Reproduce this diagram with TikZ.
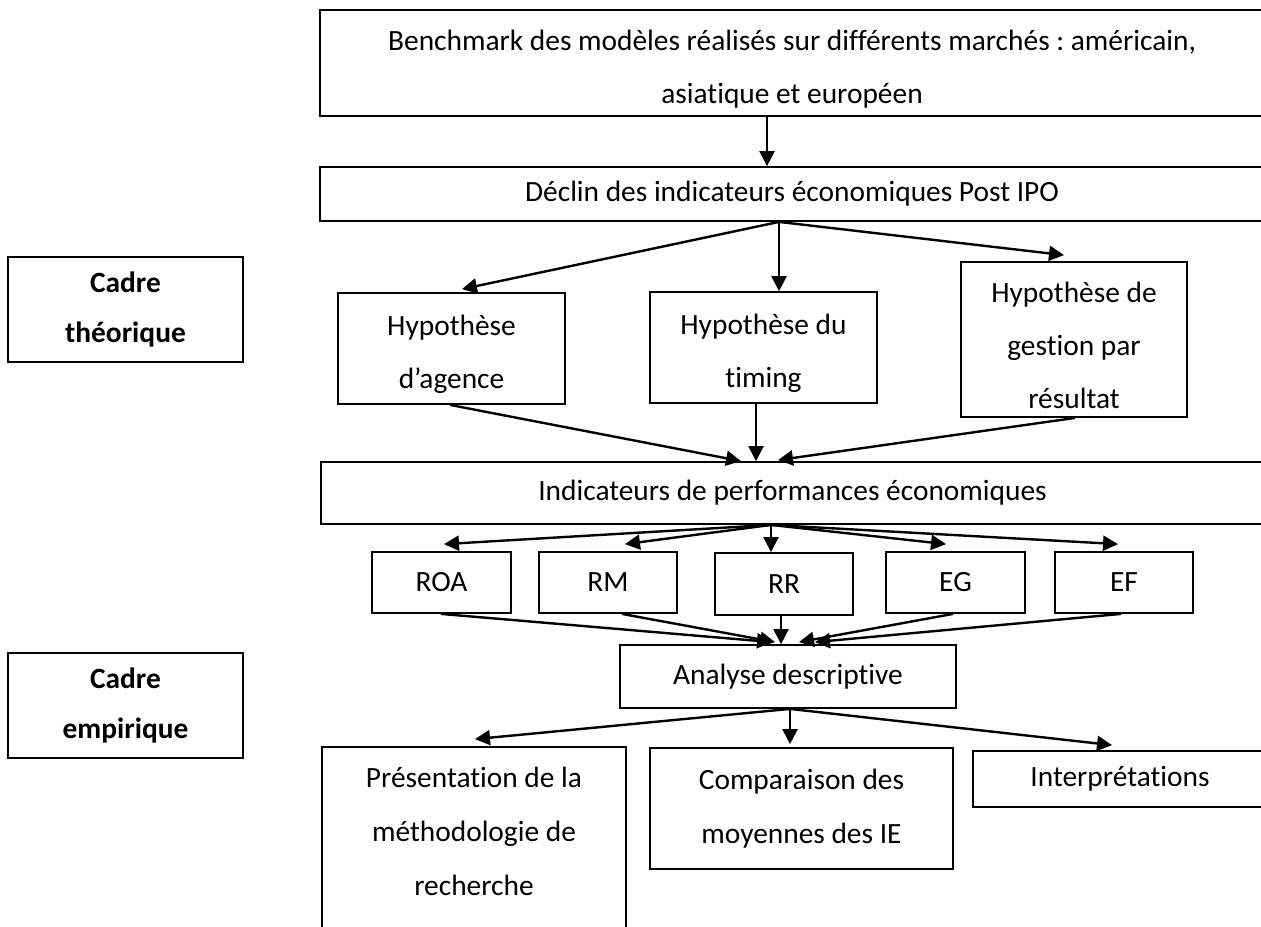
\documentclass[tikz,border=0pt]{standalone}
\usepackage{fontspec}
\setmainfont{Carlito}[Ligatures=NoCommon]
\usetikzlibrary{arrows.meta,calc}
\newcommand\topstrut{\rule{0pt}{16pt}}
\begin{document}
\begin{tikzpicture}[x=0.5pt,y=-0.5pt,
  box/.style={draw,line width=0.9pt,align=center,inner sep=0pt,
    font=\fontsize{14.7pt}{26.5pt}\selectfont\frenchspacing},
  txt/.style={align=center,inner sep=0pt,font=\fontsize{14.7pt}{26.5pt}\selectfont},
  arr/.style={line width=1.2pt,-{Triangle[length=7.5pt,width=7.5pt]}}]
\useasboundingbox (0,0) rectangle (1261,926);
\clip (0,0) rectangle (1261,926);
\fill[white] (0,0) rectangle (1261,926);
% nodes
\node[box,minimum width=472pt,minimum height=53pt] (bench) at (792,63)
  {\topstrut Benchmark des modèles réalisés sur différents marchés : américain,\\asiatique et européen};
\node[box,minimum width=472pt,minimum height=27pt] (declin) at (792,194)
  {Déclin des indicateurs économiques Post IPO};
\node[box,minimum width=117.5pt,minimum height=52.5pt,font=\fontsize{14.7pt}{25pt}\selectfont\bfseries] (cth) at (125.5,309.5)
  {Cadre\\théorique};
\node[box,minimum width=113.5pt,minimum height=55.5pt] (agence) at (451.5,348.5)
  {\topstrut Hypothèse\\d’agence};
\node[box,minimum width=113.5pt,minimum height=55.5pt] (timing) at (763.5,347.5)
  {\topstrut Hypothèse du\\timing};
\node[box,minimum width=113pt,minimum height=77.5pt] (gestion) at (1074,339.5)
  {\topstrut Hypothèse de\\gestion par\\résultat};
\node[box,minimum width=471.5pt,minimum height=31pt] (indic) at (792.5,493)
  {Indicateurs de performances économiques};
\node[box,minimum width=69.5pt,minimum height=30.5pt] (roa) at (441.5,582.5) {ROA};
\node[box,minimum width=69pt,minimum height=30.5pt] (rm) at (608,582.5) {RM};
\node[box,minimum width=69pt,minimum height=31pt] (rr) at (784,584) {RR};
\node[box,minimum width=69.5pt,minimum height=30.5pt] (eg) at (955.5,582.5) {EG};
\node[box,minimum width=69pt,minimum height=30.5pt] (ef) at (1124,582.5) {EF};
\node[box,minimum width=168pt,minimum height=31.5pt] (analyse) at (788,676.5)
  {Analyse descriptive};
\node[box,minimum width=117.5pt,minimum height=52.5pt,font=\fontsize{14.7pt}{25pt}\selectfont\bfseries] (cemp) at (125.5,705.5)
  {Cadre\\empirique};
\node[box,minimum width=152pt,minimum height=99pt] (pres) at (474,846) {};
\node[txt,font=\fontsize{14.7pt}{27pt}\selectfont] (prestxt) at (474,831)
  {Présentation de la\\méthodologie de\\recherche};
\node[box,minimum width=151.5pt,minimum height=60.5pt,font=\fontsize{14.7pt}{27pt}\selectfont] (comp) at (801.5,808.5)
  {Comparaison des\\moyennes des IE};
\node[box,minimum width=147pt,minimum height=28pt] (interp) at (1120,779)
  {Interprétations};
% connectors
\draw[arr] ($(bench.south)+(-25,0)$) -- ($(declin.north)+(-25,0)$);
\draw[arr] ($(declin.south)+(-13,0)$) -- ($(agence.north)+(10.5,-3)$);
\draw[arr] ($(declin.south)+(-13,0)$) -- ($(timing.north)+(15.5,0)$);
\draw[arr] ($(declin.south)+(-13,0)$) -- ($(gestion.north)+(-10,-6)$);
\draw[arr] ($(agence.south)+(-1.5,0)$) -- ($(indic.north)+(-51.5,0)$);
\draw[arr] ($(timing.south)+(-7.5,0)$) -- ($(indic.north)+(-36.5,0)$);
\draw[arr] ($(gestion.south)+(1,0)$) -- ($(indic.north)+(-14.5,-1)$);
\draw[arr] ($(indic.south)+(-21.5,0)$) -- ($(roa.north)+(2.5,-7)$);
\draw[arr] ($(indic.south)+(-21.5,0)$) -- ($(rm.north)+(17,-7)$);
\draw[arr] ($(indic.south)+(-21.5,0)$) -- ($(rr.north)+(-13,0)$);
\draw[arr] ($(indic.south)+(-21.5,0)$) -- ($(eg.north)+(-9.5,-7)$);
\draw[arr] ($(indic.south)+(-21.5,0)$) -- ($(ef.north)+(-6,-7)$);
\draw[arr] ($(roa.south)+(-0.5,0)$) -- ($(analyse.north)+(-16,-2)$);
\draw[arr] ($(rm.south)+(14,0)$) -- ($(analyse.north)+(-13,-2)$);
\draw[arr] ($(rr.south)+(-3,0)$) -- ($(analyse.north)+(-7,0)$);
\draw[arr] ($(eg.south)+(-2.5,0)$) -- ($(analyse.north)+(11,-2)$);
\draw[arr] ($(ef.south)+(-3,0)$) -- ($(analyse.north)+(27,-2)$);
\draw[arr] ($(analyse.south)+(2,0)$) -- ($(pres.north)+(1,-7)$);
\draw[arr] ($(analyse.south)+(2,0)$) -- ($(comp.north)+(-11.5,-3)$);
\draw[arr] ($(analyse.south)+(2,0)$) -- ($(interp.north)+(-8,-5)$);
\end{tikzpicture}
\end{document}
